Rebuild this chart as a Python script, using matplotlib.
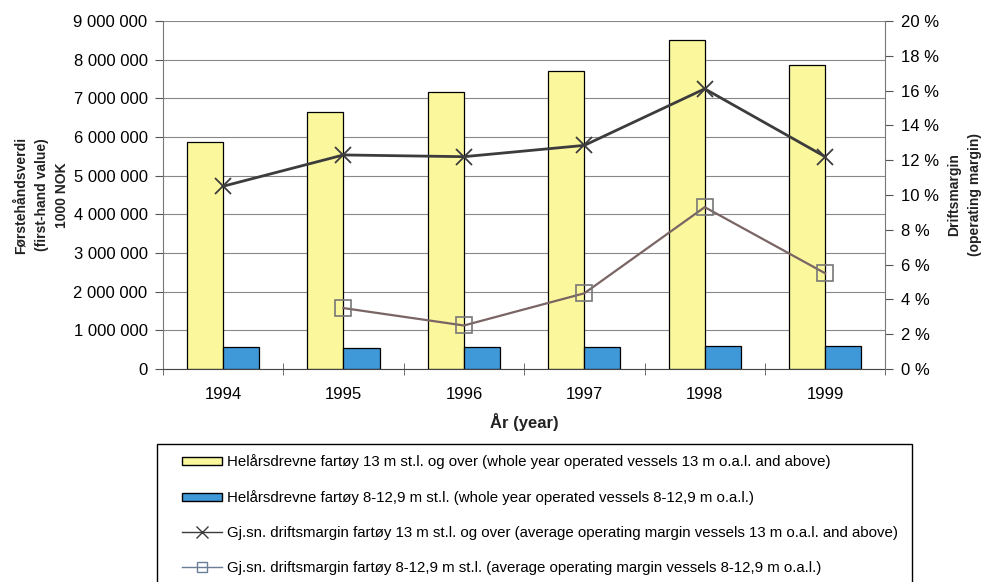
import numpy as np
import matplotlib
matplotlib.use("Agg")
import matplotlib.pyplot as plt
from matplotlib.ticker import FuncFormatter, MultipleLocator, FixedLocator
from matplotlib.patches import Patch, Rectangle
from matplotlib.lines import Line2D

plt.rcParams["font.family"] = ["Liberation Sans", "DejaVu Sans"]

years = ["1994", "1995", "1996", "1997", "1998", "1999"]
value_13m = [5860000, 6640000, 7160000, 7700000, 8500000, 7850000]
value_8m = [577000, 535000, 580000, 580000, 600000, 595000]
margin_13m = [10.5, 12.3, 12.2, 12.85, 16.1, 12.2]
margin_8m = [np.nan, 3.5, 2.5, 4.35, 9.3, 5.5]

labels = [
    "Helårsdrevne fartøy 13 m st.l. og over (whole year operated vessels 13 m o.a.l. and above)",
    "Helårsdrevne fartøy 8-12,9 m st.l. (whole year operated vessels 8-12,9 m o.a.l.)",
    "Gj.sn. driftsmargin fartøy 13 m st.l. og over (average operating margin vessels 13 m o.a.l. and above)",
    "Gj.sn. driftsmargin fartøy 8-12,9 m st.l. (average operating margin vessels 8-12,9 m o.a.l.)",
]

yellow = "#fbf79c"
blue = "#3f98d8"
dark = "#3c3c3c"
brown = "#7a6464"

fig = plt.figure(figsize=(9.87, 5.82), dpi=100)
ax = fig.add_axes([0.165, 0.366, 0.732, 0.598])
x = np.arange(len(years))
w = 0.30

ax.bar(x - w / 2, value_13m, w, color=yellow, edgecolor="black", linewidth=0.9, zorder=2)
ax.bar(x + w / 2, value_8m, w, color=blue, edgecolor="black", linewidth=0.9, zorder=2)

ax.set_xlim(-0.5, len(years) - 0.5)
ax.set_ylim(0, 9000000)
ax.yaxis.set_major_locator(MultipleLocator(1000000))
ax.yaxis.set_major_formatter(FuncFormatter(lambda v, p: f"{int(v):,}".replace(",", " ")))
ax.grid(axis="y", color="#888888", linewidth=0.8, zorder=0)
ax.set_xticks(x)
ax.set_xticklabels(years)
ax.xaxis.set_minor_locator(FixedLocator(np.arange(-0.5, len(years), 1.0)))
ax.tick_params(axis="x", which="major", length=0, pad=13, labelsize=12)
ax.tick_params(axis="x", which="minor", length=8, direction="inout", color="#555555")
ax.tick_params(axis="y", length=6, color="#555555", labelsize=12, pad=5)
ax.spines["top"].set_visible(False)
ax.spines["left"].set_color("#777777")
ax.spines["right"].set_visible(False)
ax.spines["bottom"].set_color("#444444")

ax.set_ylabel("Førstehåndsverdi\n(first-hand value)\n1000 NOK", fontsize=10,
              fontweight="bold", labelpad=3, linespacing=1.6, color="#222222")
ax.set_xlabel("År (year)", fontsize=12, fontweight="bold", labelpad=8, color="#222222")

ax2 = ax.twinx()
ax2.plot(x, margin_13m, color=dark, linewidth=2, marker="x", markersize=12,
         markeredgewidth=1.3, zorder=3)
ax2.plot(x, margin_8m, color=brown, linewidth=1.6, marker="s", markersize=12,
         markerfacecolor="none", markeredgecolor="#777777", markeredgewidth=1.2, zorder=3)
ax2.set_ylim(0, 20)
ax2.yaxis.set_major_locator(MultipleLocator(2))
ax2.yaxis.set_major_formatter(FuncFormatter(lambda v, p: f"{int(v)} %"))
ax2.tick_params(axis="y", length=6, color="#555555", labelsize=12, pad=5)
ax2.spines["top"].set_visible(False)
ax2.spines["left"].set_visible(False)
ax2.spines["bottom"].set_visible(False)
ax2.spines["right"].set_color("#777777")
ax2.set_ylabel("Driftsmargin\n(operating margin)", fontsize=10, fontweight="bold",
               labelpad=6, linespacing=1.6, color="#222222")

# legend box frame drawn separately, extends past the bottom edge
fig.patches.append(Rectangle((157 / 987, -0.05), (912 - 157) / 987, 0.05 + 1 - 444 / 582,
                             transform=fig.transFigure, fill=False,
                             edgecolor="black", linewidth=1.0))

handles = [
    Patch(facecolor=yellow, edgecolor="black"),
    Patch(facecolor=blue, edgecolor="black"),
    Line2D([], [], color=dark, linewidth=1, marker="x", markersize=9),
    Line2D([], [], color="#6a7f95", linewidth=1, marker="s", markersize=7,
           markerfacecolor="none"),
]
leg = fig.legend(handles, labels, loc="upper left", bbox_to_anchor=(182 / 987, 1 - 454 / 582),
                 fontsize=10.8, frameon=False, handlelength=2.67, handleheight=0.45,
                 labelspacing=1.4, borderpad=0, borderaxespad=0, handletextpad=0.33)

fig.savefig("out.png", dpi=100)
